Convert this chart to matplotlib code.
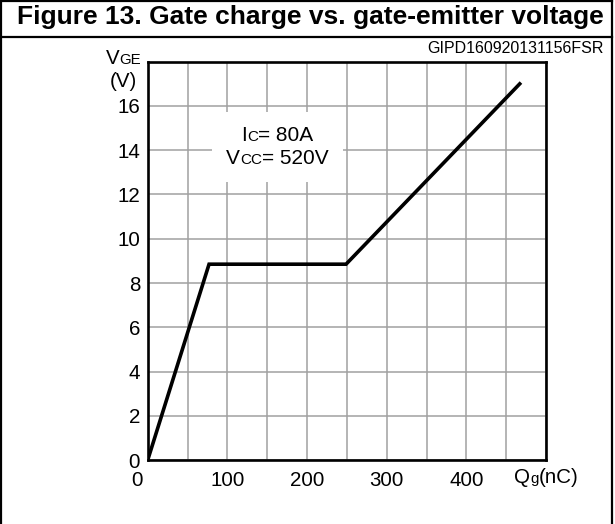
import numpy as np
import matplotlib
matplotlib.use("Agg")
import matplotlib.pyplot as plt
import matplotlib.transforms as mtransforms
from matplotlib.lines import Line2D
from matplotlib.offsetbox import TextArea, HPacker, VPacker, AnnotationBbox

FONT = "Liberation Sans"
plt.rcParams["font.family"] = [FONT, "DejaVu Sans"]

# curve
qg_nc = [0, 77, 249, 467]
vge_v = [0, 8.85, 8.85, 17.0]

x_grid = list(range(0, 501, 50))
x_labels = ["0", "", "100", "", "200", "", "300", "", "400", "", ""]
y_grid = list(range(0, 19, 2))
y_labels = ["0", "2", "4", "6", "8", "10", "12", "14", "16", ""]

title = "Figure 13. Gate charge vs. gate-emitter voltage"
fig_id = "GIPD160920131156FSR"


def mixed(parts):
    areas = [TextArea(s, textprops=dict(fontsize=fs, family=FONT, color="black"))
             for s, fs in parts]
    return HPacker(children=areas, align="baseline", pad=0, sep=0)


fig = plt.figure(figsize=(6.15, 5.24), dpi=100)
ax = fig.add_axes([0.2402, 0.1221, 0.6476, 0.7601])

ax.plot(qg_nc, vge_v, color="black", lw=2.6, solid_joinstyle="miter", zorder=4)

ax.set_xlim(0, 500)
ax.set_ylim(0, 18)
ax.set_xticks(x_grid)
ax.set_xticklabels(x_labels)
ax.set_yticks(y_grid)
ax.set_yticklabels(y_labels)
ax.tick_params(axis="both", length=0, labelsize=14.8)
ax.tick_params(axis="x", pad=8.2)
ax.tick_params(axis="y", pad=5.5)
ax.set_axisbelow(True)
ax.grid(True, color="#a0a0a0", lw=1.1)
for sp in ax.spines.values():
    sp.set_linewidth(1.9)

# first x label sits left of the corner
lab0 = ax.get_xticklabels()[0]
lab0.set_transform(lab0.get_transform() +
                   mtransforms.ScaledTranslation(-11 / 100, 0, fig.dpi_scale_trans))

# axis titles with small-letter suffixes
ax.add_artist(AnnotationBbox(mixed([("Q", 14.8), ("g", 10.8), ("(nC)", 14.8)]),
                             (500, 0), xybox=(0, -12.3), boxcoords="offset points",
                             frameon=False, pad=0, box_alignment=(0.5, 0.5),
                             annotation_clip=False))
ax.add_artist(AnnotationBbox(mixed([("V", 14.8), ("GE", 10.8)]),
                             (0, 18), xybox=(-17.5, 2.4), boxcoords="offset points",
                             frameon=False, pad=0, box_alignment=(0.5, 0.5),
                             annotation_clip=False))
ax.add_artist(AnnotationBbox(TextArea("(V)", textprops=dict(fontsize=14.8, family=FONT)),
                             (0, 18), xybox=(-17.5, -14.4), boxcoords="offset points",
                             frameon=False, pad=0, box_alignment=(0.5, 0.5),
                             annotation_clip=False))

# conditions box
cond = VPacker(children=[mixed([("I", 15), ("C", 11), ("= 80A", 15)]),
                         mixed([("V", 15), ("CC", 11), ("= 520V", 15)])],
               align="center", pad=0, sep=2.5)
ab = AnnotationBbox(cond, (163, 14.15), frameon=True, pad=0,
                    bboxprops=dict(facecolor="white", edgecolor="none",
                                   boxstyle="square,pad=1.0"),
                    box_alignment=(0.5, 0.5), zorder=3)
ax.add_artist(ab)

# frame and header
fig.text(0.505, 0.9675, title, ha="center", va="center", fontsize=19,
         fontweight="bold", family=FONT)
fig.text(0.982, 0.907, fig_id, ha="right", va="center", fontsize=11.5, family=FONT)
for xs, ys in [([0.001, 0.001], [0, 0.998]),
               ([0.001, 0.9946], [0.998, 0.998]),
               ([0.9946, 0.9946], [0, 0.998]),
               ([0.001, 0.9946], [0.9294, 0.9294])]:
    fig.add_artist(Line2D(xs, ys, transform=fig.transFigure, color="black", lw=1.6))

fig.savefig("out.png", dpi=100)
